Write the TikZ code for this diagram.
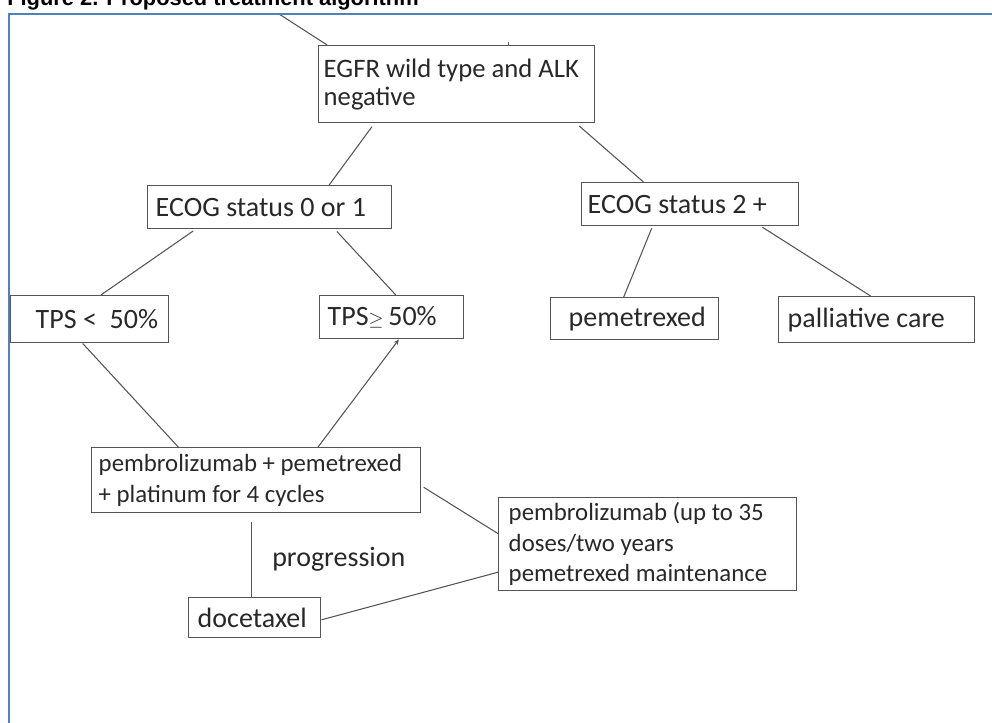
\documentclass[tikz,border=0pt]{standalone}
\usepackage{fontspec}
\setmainfont{Carlito}
\newfontfamily\titlefont{Liberation Sans}
\usetikzlibrary{calc,arrows.meta}
\definecolor{frameblue}{RGB}{79,129,189}
\definecolor{boxline}{RGB}{85,85,85}
\definecolor{txt}{RGB}{40,40,40}
\newcommand{\ind}[1]{\hspace*{#1}}
\newcommand{\fs}[2]{\fontsize{#1}{#2}\selectfont}
\begin{document}
\begin{tikzpicture}[x=0.75pt,y=-0.75pt,
  box/.style={draw=boxline, line width=1.1pt, rectangle, anchor=north west,
    align=flush left, text=txt, inner xsep=0pt, inner ysep=0pt, font=\fs{21pt}{21pt}},
  smallbox/.style={font=\fs{18.6pt}{23pt}},
  link/.style={draw=boxline, line width=0.8pt},
  lbl/.style={anchor=base west, inner sep=0pt, text=txt, font=\fs{21pt}{21pt}}]
\useasboundingbox (0,0) rectangle (992,722);

% title
\node[anchor=base west, inner sep=0pt,
  font=\titlefont\bfseries\fontsize{16.4pt}{18pt}\selectfont] (title) at (7,5)
  {Figure 2. Proposed treatment algorithm};

% boxes
\node[box, font=\fs{20pt}{21pt}, minimum width=207pt, minimum height=57.75pt,
  text width=207pt] (egfr) at (318,45)
  {\ind{3.75pt}EGFR wild type and ALK\\\ind{3.75pt}negative};
\node[box, minimum width=183pt, minimum height=32.25pt, text width=183pt]
  (ecoga) at (147,185) {\ind{6pt}ECOG status 0 or 1};
\node[box, minimum width=162.75pt, minimum height=32.25pt, text width=162.75pt]
  (ecogb) at (581,182) {\ind{4.5pt}ECOG status 2 +};
\node[box, minimum width=118.5pt, minimum height=35.25pt, text width=118.5pt]
  (tpsl) at (10,295) {\ind{18.75pt}TPS <\ \ 50\%};
\node[box, minimum width=108pt, minimum height=32.25pt, text width=108pt]
  (tpsg) at (319,295) {\ind{6pt}TPS{\fontsize{15pt}{15pt}\selectfont$\geq$}\,50\%};
\node[box, minimum width=126pt, minimum height=31.5pt, text width=126pt]
  (pem) at (550,297) {\ind{13.5pt}pemetrexed};
\node[box, minimum width=147pt, minimum height=34.5pt, text width=147pt]
  (pall) at (778,296) {\ind{6.75pt}palliative care};
\node[box, smallbox, minimum width=246.75pt, minimum height=48.75pt, text width=246.75pt]
  (pembro) at (91,447) {\ind{5.25pt}pembrolizumab + pemetrexed\\\ind{5.25pt}+ platinum for 4 cycles};
\node[box, smallbox, minimum width=223.5pt, minimum height=69.75pt, text width=223.5pt]
  (maint) at (498,497) {\ind{7.5pt}pembrolizumab (up to 35\\\ind{7.5pt}doses/two years\\\ind{7.5pt}pemetrexed maintenance};
\node[box, minimum width=99pt, minimum height=30pt, text width=99pt]
  (doce) at (188,597) {\ind{6.75pt}docetaxel};

\node[lbl] (prog) at (272,566) {progression};

% connectors
\coordinate (topend) at (279,14);
\draw[link] (topend) -- ($(egfr.north west)!0.033!(egfr.north east)$);
\draw[link] ($(egfr.north west)!0.688!(egfr.north east)$) -- ++(0,-3);
\draw[link, shorten <=3pt] ($(egfr.south west)!0.203!(egfr.south east)$) -- ($(ecoga.north west)!0.742!(ecoga.north east)$);
\draw[link, shorten <=3pt] ($(egfr.south west)!0.931!(egfr.south east)$) -- ($(ecogb.north west)!0.286!(ecogb.north east)$);
\draw[link, shorten <=2pt] ($(ecoga.south west)!0.197!(ecoga.south east)$) -- ($(tpsl.north west)!0.57!(tpsl.north east)$);
\draw[link, shorten <=2pt] ($(ecoga.south west)!0.766!(ecoga.south east)$) -- ($(tpsg.north west)!0.528!(tpsg.north east)$);
\draw[link, shorten <=1.5pt] ($(ecogb.south west)!0.327!(ecogb.south east)$) -- ($(pem.north west)!0.435!(pem.north east)$);
\draw[link, shorten <=1pt] ($(ecogb.south west)!0.825!(ecogb.south east)$) -- ($(pall.north west)!0.469!(pall.north east)$);
\draw[link] ($(tpsl.south west)!0.456!(tpsl.south east)$) -- ($(pembro.north west)!0.264!(pembro.north east)$);
\draw[link, -{Stealth[length=4pt,width=3.5pt]}] ($(pembro.north west)!0.687!(pembro.north east)$) -- ($(tpsg.south west)!0.549!(tpsg.south east)$);
\draw[link, shorten <=2pt] ($(pembro.north east)!0.585!(pembro.south east)$) -- ($(maint.north west)!0.387!(maint.south west)$);
\coordinate (pb) at ($(pembro.south west)!0.486!(pembro.south east)$);
\draw[link, shorten <=6.75pt] (pb) -- (pb |- doce.north);
\draw[link] ($(doce.north east)!0.55!(doce.south east)$) -- ($(maint.north west)!0.796!(maint.south west)$);

% frame
\draw[frameblue, line width=1.6pt] (9,730) -- (9,14) -- (1000,14);
\end{tikzpicture}
\end{document}
